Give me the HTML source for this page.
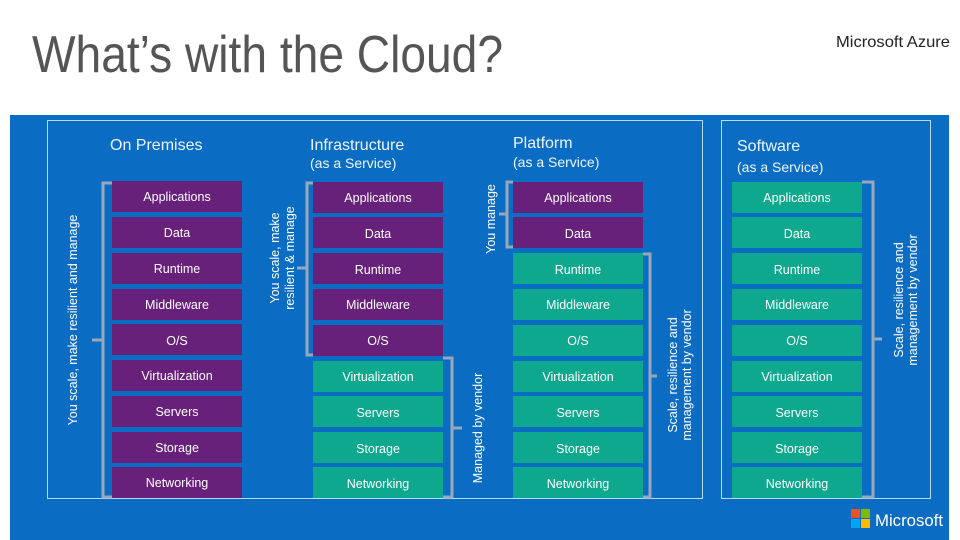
<!DOCTYPE html>
<html><head><meta charset="utf-8"><style>
html,body{margin:0;padding:0;background:#fff;width:960px;height:540px;overflow:hidden}
svg{display:block}
text{font-family:"Liberation Sans",sans-serif}
</style></head><body>
<svg width="960" height="540" viewBox="0 0 960 540" xmlns="http://www.w3.org/2000/svg">
<rect width="960" height="540" fill="#fff"/>
<text x="32" y="72" font-size="52" fill="#555" textLength="471" lengthAdjust="spacingAndGlyphs">What’s with the Cloud?</text>
<text x="836" y="47" font-size="16" fill="#222" textLength="114" lengthAdjust="spacingAndGlyphs">Microsoft Azure</text>
<rect x="10" y="115" width="939" height="425" fill="#0b6cc4"/>
<rect x="47.5" y="120.5" width="655" height="378" fill="none" stroke="#b8dcf2" stroke-width="1"/>
<rect x="721.5" y="120.5" width="209" height="378" fill="none" stroke="#b8dcf2" stroke-width="1"/>
<g fill="#eef6fc" font-size="16">
<text x="110" y="150">On Premises</text>
<text x="310" y="150">Infrastructure</text>
<text x="310" y="168" font-size="14">(as a Service)</text>
<text x="513" y="148">Platform</text>
<text x="513" y="167" font-size="14">(as a Service)</text>
<text x="737" y="151">Software</text>
<text x="737" y="172" font-size="14">(as a Service)</text>
</g>
<g fill="#68217a">
<rect x="112" y="181" width="130" height="31"/><rect x="112" y="217" width="130" height="31"/><rect x="112" y="253" width="130" height="31"/><rect x="112" y="289" width="130" height="31"/><rect x="112" y="324" width="130" height="31"/><rect x="112" y="360" width="130" height="31"/><rect x="112" y="396" width="130" height="31"/><rect x="112" y="432" width="130" height="31"/><rect x="112" y="467" width="130" height="31"/>
<rect x="313" y="182" width="130" height="31"/><rect x="313" y="217" width="130" height="31"/><rect x="313" y="253" width="130" height="31"/><rect x="313" y="289" width="130" height="31"/><rect x="313" y="325" width="130" height="31"/>
<rect x="513" y="182" width="130" height="31"/><rect x="513" y="217" width="130" height="31"/>
</g>
<g fill="#0ea88e">
<rect x="313" y="361" width="130" height="31"/><rect x="313" y="396" width="130" height="31"/><rect x="313" y="432" width="130" height="31"/><rect x="313" y="467" width="130" height="31"/>
<rect x="513" y="253" width="130" height="31"/><rect x="513" y="289" width="130" height="31"/><rect x="513" y="325" width="130" height="31"/><rect x="513" y="361" width="130" height="31"/><rect x="513" y="396" width="130" height="31"/><rect x="513" y="432" width="130" height="31"/><rect x="513" y="467" width="130" height="31"/>
<rect x="732" y="182" width="130" height="31"/><rect x="732" y="217" width="130" height="31"/><rect x="732" y="253" width="130" height="31"/><rect x="732" y="289" width="130" height="31"/><rect x="732" y="325" width="130" height="31"/><rect x="732" y="361" width="130" height="31"/><rect x="732" y="396" width="130" height="31"/><rect x="732" y="432" width="130" height="31"/><rect x="732" y="467" width="130" height="31"/>
</g>
<g font-size="12.5" fill="#fff" text-anchor="middle">
<text x="177" y="201">Applications</text><text x="177" y="237">Data</text><text x="177" y="273">Runtime</text><text x="177" y="309">Middleware</text><text x="177" y="345">O/S</text><text x="177" y="380">Virtualization</text><text x="177" y="416">Servers</text><text x="177" y="452">Storage</text><text x="177" y="487">Networking</text>
<text x="378" y="202">Applications</text><text x="378" y="238">Data</text><text x="378" y="274">Runtime</text><text x="378" y="309">Middleware</text><text x="378" y="345">O/S</text><text x="378" y="381">Virtualization</text><text x="378" y="417">Servers</text><text x="378" y="453">Storage</text><text x="378" y="488">Networking</text>
<text x="578" y="202">Applications</text><text x="578" y="238">Data</text><text x="578" y="274">Runtime</text><text x="578" y="309">Middleware</text><text x="578" y="345">O/S</text><text x="578" y="381">Virtualization</text><text x="578" y="417">Servers</text><text x="578" y="453">Storage</text><text x="578" y="488">Networking</text>
<text x="797" y="202">Applications</text><text x="797" y="238">Data</text><text x="797" y="274">Runtime</text><text x="797" y="309">Middleware</text><text x="797" y="345">O/S</text><text x="797" y="381">Virtualization</text><text x="797" y="417">Servers</text><text x="797" y="453">Storage</text><text x="797" y="488">Networking</text>
</g>
<g fill="none" stroke="#98a8ba" stroke-width="3">
<path d="M112 183 H103 V497 H112 M103 340 H92"/>
<path d="M313 183 H307 V355 H313 M307 268 H297"/>
<path d="M443 358 H452 V497 H443 M452 428 H462"/>
<path d="M513 182 H507 V247 H513 M507 214 H499"/>
<path d="M643 254 H650 V497 H643 M650 376 H657"/>
<path d="M862 182 H873 V497 H862 M873 339 H882"/>
</g>
<g fill="#fff" font-size="12.5" text-anchor="middle">
<text transform="translate(77,320) rotate(-90)">You scale, make resilient and manage</text>
<text transform="translate(279,258) rotate(-90)">You scale, make</text>
<text transform="translate(294,258) rotate(-90)">resilient &amp; manage</text>
<text transform="translate(482,428) rotate(-90)">Managed by vendor</text>
<text transform="translate(495,219) rotate(-90)">You manage</text>
<text transform="translate(677,375) rotate(-90)">Scale, resilience and</text>
<text transform="translate(691,375) rotate(-90)">management by vendor</text>
<text transform="translate(903,300) rotate(-90)">Scale, resilience and</text>
<text transform="translate(917,300) rotate(-90)">management by vendor</text>
</g>
<rect x="851" y="509" width="9" height="9" fill="#f25022"/>
<rect x="861" y="509" width="9" height="9" fill="#7fba00"/>
<rect x="851" y="519" width="9" height="9" fill="#00a4ef"/>
<rect x="861" y="519" width="9" height="9" fill="#ffb900"/>
<text x="875" y="526" font-size="17" fill="#fff" textLength="68" lengthAdjust="spacingAndGlyphs">Microsoft</text>
</svg>
</body></html>
